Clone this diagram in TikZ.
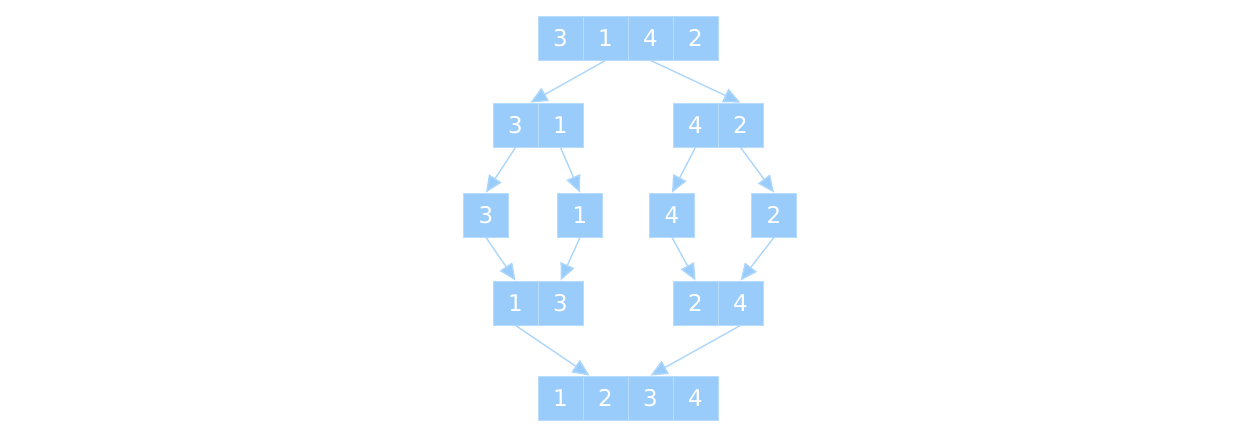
\documentclass[tikz,border=0pt]{standalone}
\usepackage{fontspec}
\setmainfont{DejaVu Sans}
\usetikzlibrary{arrows.meta}
\definecolor{cb}{HTML}{99CCFA}
\definecolor{cl}{HTML}{B8DCFB}
\tikzset{cell/.style={fill=cb,draw=cl,line width=0.8pt,minimum width=45pt,minimum height=44pt,inner sep=0pt,text=white,font=\fontsize{23}{23}\selectfont},
arr/.style={draw=cb!80,line width=1.4pt,-{Triangle[length=17pt,width=15pt,fill=cb]}}}
\begin{document}
\begin{tikzpicture}[x=1pt,y=-1pt]
\useasboundingbox (0,0) rectangle (1258,437);
\foreach \n/\v [count=\i] in {t1/3,t2/1,t3/4,t4/2}{\node[cell] (\n) at (538+45*\i-22.5,38) {\v};}
\node[cell] (la1) at (515.5,125) {3}; \node[cell] (la2) at (560.5,125) {1};
\node[cell] (ra1) at (695.5,125) {4}; \node[cell] (ra2) at (740.5,125) {2};
\node[cell] (c1) at (486,215) {3}; \node[cell] (c2) at (580,215) {1};
\node[cell] (c3) at (672,215) {4}; \node[cell] (c4) at (774,215) {2};
\node[cell] (lb1) at (515.5,303) {1}; \node[cell] (lb2) at (560.5,303) {3};
\node[cell] (rb1) at (695.5,303) {2}; \node[cell] (rb2) at (740.5,303) {4};
\foreach \n/\v [count=\i] in {b1/1,b2/2,b3/3,b4/4}{\node[cell] (\n) at (538+45*\i-22.5,398) {\v};}
\draw[arr] (t2.south) -- ([xshift=-8pt]la1.north east);
\draw[arr] (t3.south) -- (ra2.north);
\draw[arr] (la1.south) -- (c1.north);
\draw[arr] (la2.south) -- (c2.north);
\draw[arr] (ra1.south) -- (c3.north);
\draw[arr] (ra2.south) -- (c4.north);
\draw[arr] (c1.south) -- (lb1.north);
\draw[arr] (c2.south) -- (lb2.north);
\draw[arr] (c3.south) -- (rb1.north);
\draw[arr] (c4.south) -- (rb2.north);
\draw[arr] (lb1.south) -- ([xshift=7pt]b2.north west);
\draw[arr] (rb2.south) -- (b3.north);
\end{tikzpicture}
\end{document}
